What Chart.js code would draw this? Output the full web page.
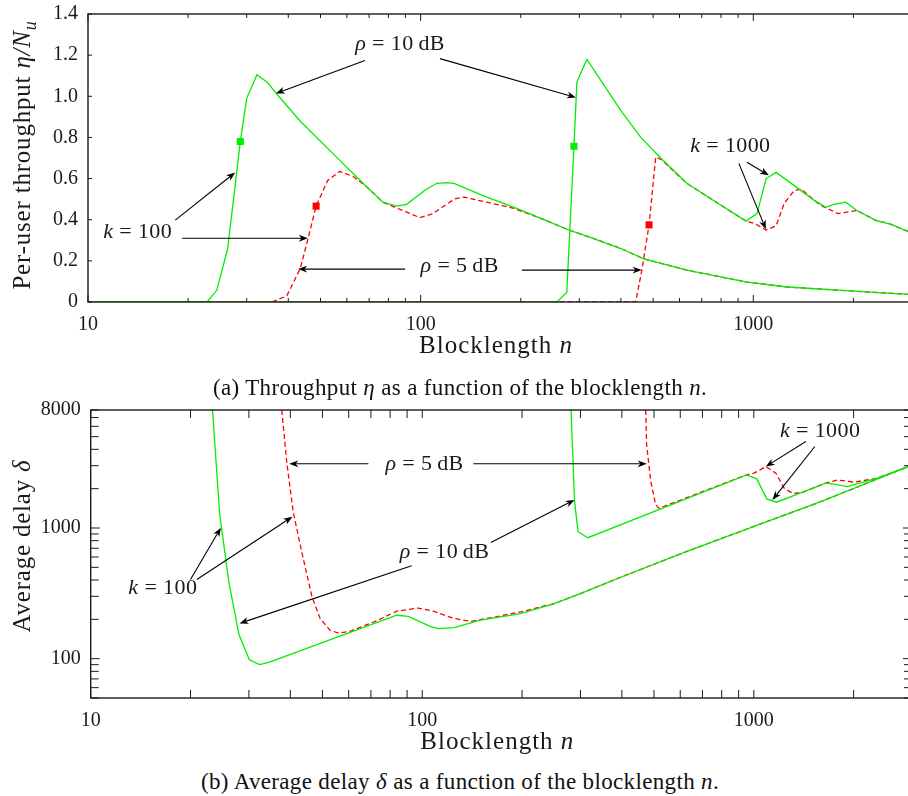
<!DOCTYPE html>
<html>
<head>
<meta charset="utf-8">
<script src="https://cdn.jsdelivr.net/npm/chart.js@4.4.1/dist/chart.umd.min.js"></script>
<style>
  html, body { margin: 0; padding: 0; background: #fff; }
  body { width: 908px; height: 796px; overflow: hidden; position: relative; }
  canvas { position: absolute; left: 0; }
  #c1 { top: 0; }
  #c2 { top: 395px; }
  .cap { position: absolute; font-family: "Liberation Serif", serif; font-size: 23px; line-height: 23px;
         letter-spacing: 0.35px; color: #111; white-space: nowrap; transform: translateX(-50%); }
</style>
</head>
<body>
<canvas id="c1" width="920" height="365"></canvas>
<canvas id="c2" width="920" height="365"></canvas>
<div class="cap" style="left:460px; top:376px;">(a) Throughput <i>η</i> as a function of the blocklength <i>n</i>.</div>
<div class="cap" style="left:460px; top:770px;">(b) Average delay <i>δ</i> as a function of the blocklength <i>n</i>.</div>
<script>
// (a) throughput eta / N_u  -- k = 100
const nG100   = [10, 22.8, 24.4, 26.3, 28.7, 30, 32.2, 34.5, 37, 43.4, 54.6, 68.8, 77, 84.8, 90.8, 104, 112, 120, 126, 158, 191, 235, 279, 316, 400, 469, 631, 957, 1262, 2006, 3000];
const etaG100 = [0, 0, 0.058, 0.26, 0.78, 0.99, 1.105, 1.07, 1.01, 0.88, 0.72, 0.56, 0.485, 0.466, 0.475, 0.548, 0.577, 0.58, 0.577, 0.51, 0.46, 0.40, 0.35, 0.32, 0.26, 0.21, 0.155, 0.097, 0.073, 0.053, 0.036];
const nR100   = [10, 35.7, 39.6, 43.4, 45.9, 48.5, 52.5, 57.1, 62.7, 68.8, 77, 86.7, 99.5, 109, 126, 135, 158, 191, 235, 279, 316, 400, 469, 631, 957, 1262, 2006, 3000];
const etaR100 = [0, 0, 0.03, 0.16, 0.31, 0.466, 0.59, 0.635, 0.61, 0.56, 0.485, 0.45, 0.41, 0.43, 0.50, 0.51, 0.485, 0.455, 0.40, 0.35, 0.32, 0.26, 0.21, 0.155, 0.097, 0.073, 0.053, 0.036];
// k = 1000
const nG1000   = [10, 257, 275, 289, 295, 316, 348, 400, 459, 527, 631, 800, 951, 1026, 1093, 1171, 1325, 1521, 1652, 1746, 1898, 2048, 2333, 2587, 3000];
const etaG1000 = [0, 0, 0.047, 0.757, 1.07, 1.18, 1.077, 0.93, 0.80, 0.70, 0.577, 0.47, 0.393, 0.43, 0.60, 0.63, 0.567, 0.495, 0.46, 0.475, 0.485, 0.445, 0.397, 0.378, 0.335];
const nR1000   = [10, 443, 463, 486, 509, 531, 631, 800, 951, 1005, 1093, 1171, 1239, 1325, 1394, 1521, 1595, 1797, 2048, 2333, 2587, 3000];
const etaR1000 = [0, 0, 0.16, 0.375, 0.705, 0.69, 0.577, 0.47, 0.393, 0.383, 0.35, 0.37, 0.48, 0.54, 0.55, 0.495, 0.47, 0.43, 0.445, 0.397, 0.378, 0.335];
// square markers
const mkGreenN = [28.7, 289], mkGreenEta = [0.78, 0.757];
const mkRedN = [48.5, 486],   mkRedEta = [0.466, 0.375];

// (b) average delay
const dnG100 = [23.3, 24.5, 26.1, 28.0, 30.1, 32.3, 34.6, 83.8, 90.8, 105.6, 112, 124.7, 150, 198, 250, 301, 397, 631, 1002, 1592, 3000];
const dG100  = [8000, 1259, 387, 153, 98, 90, 94, 215, 211, 177, 170, 173, 197, 221, 264, 316, 420, 665, 1030, 1590, 3030];
const dnR100 = [37.7, 39.0, 40.8, 43.3, 46.5, 49.2, 52.7, 55.9, 60.6, 72.9, 83.8, 97.2, 108, 124.7, 140, 165, 198, 250, 301, 397, 631, 1002, 1592, 3000];
const dR100  = [8000, 3228, 1334, 657, 297, 203, 165, 157, 162, 195, 231, 244, 231, 203, 193, 208, 228, 264, 316, 420, 665, 1030, 1590, 3030];
const dnG1000 = [281, 288, 295, 316, 951, 1021, 1094, 1172, 1648, 1746, 1914, 2359, 3000];
const dG1000  = [8000, 1592, 937, 843, 2552, 2377, 1670, 1575, 2203, 2163, 2075, 2404, 3030];
const dnR1000 = [472, 475, 489, 506, 518, 951, 1002, 1087, 1165, 1234, 1307, 1385, 1648, 1787, 2005, 2359, 3000];
const dR1000  = [8000, 4335, 2265, 1502, 1416, 2552, 2630, 2951, 2630, 2018, 1847, 1855, 2203, 2333, 2244, 2404, 3030];

// ticks
const nTicks = [10, 20, 30, 40, 50, 60, 70, 80, 90, 100, 200, 300, 400, 500, 600, 700, 800, 900, 1000, 2000, 3000];
const nLabels = [10, 100, 1000];
const etaTicks = [0, 0.2, 0.4, 0.6, 0.8, 1.0, 1.2, 1.4];
const delayTicks = [50, 60, 70, 80, 90, 100, 200, 300, 400, 500, 600, 700, 800, 900, 1000, 2000, 3000, 4000, 5000, 6000, 7000, 8000];
const delayLabels = [100, 1000, 8000];

// annotations, in data coordinates (n, value)
const K100 = [['k', 'i'], [' = 100', 'r']];
const K1000 = [['k', 'i'], [' = 1000', 'r']];
const RHO10 = [['ρ', 'i'], [' = 10\u2009dB', 'r']];
const RHO5 = [['ρ', 'i'], [' = 5\u2009dB', 'r']];
const notesA = [[RHO10, 86.7, 1.251], [K100, 14.1, 0.337], [RHO5, 131, 0.175], [K1000, 853, 0.757]];
const arrowsA = [[68.0, 1.174, 36.7, 1.014], [114.3, 1.183, 293, 0.994], [18.3, 0.398, 27.7, 0.630],
                 [19.2, 0.310, 45.8, 0.310], [89.8, 0.160, 42.8, 0.160], [201.6, 0.155, 462, 0.155],
                 [957, 0.679, 1114, 0.616], [905, 0.674, 1091, 0.354]];
const notesB = [[RHO5, 101.6, 3083], [RHO10, 116.7, 649], [K100, 16.5, 344], [K1000, 1585, 5546]];
const arrowsB = [[68.8, 3100, 39.7, 3100], [142.6, 3100, 475.5, 3100], [20.0, 404, 24.7, 1005],
                 [20.9, 404, 40.6, 1221], [92.9, 514, 28.1, 186], [161, 776, 288, 1641],
                 [1435, 4594, 1087, 2951], [1528, 4207, 1138, 1641]];

const FONT = '"Liberation Serif", serif';
const INK = '#1a1a1a';
const GREEN = '#00ee00';
const RED = '#ff0000';

function pts(xs, ys) { return xs.map((x, i) => ({ x: x, y: ys[i] })); }

function drawParts(ctx, parts, x, y, size, align, spacing) {
  const fonts = { r: size + 'px ' + FONT, i: 'italic ' + size + 'px ' + FONT, s: Math.round(size * 0.7) + 'px ' + FONT, si: 'italic ' + Math.round(size * 0.7) + 'px ' + FONT };
  ctx.letterSpacing = (spacing || 0) + 'px';
  let w = 0;
  parts.forEach(p => { ctx.font = fonts[p[1]]; w += ctx.measureText(p[0]).width; });
  let cx = align === 'center' ? x - w / 2 : x;
  ctx.textAlign = 'left';
  parts.forEach(p => {
    ctx.font = fonts[p[1]];
    const dy = (p[1] === 's' || p[1] === 'si') ? size * 0.22 : 0;
    ctx.fillText(p[0], cx, y + dy);
    cx += ctx.measureText(p[0]).width;
  });
  ctx.letterSpacing = '0px';
}

function arrow(ctx, x1, y1, x2, y2) {
  const a = Math.atan2(y2 - y1, x2 - x1);
  const L = 9, W = 3.4, N = 6.5;
  ctx.beginPath();
  ctx.moveTo(x1, y1);
  ctx.lineTo(x2 - Math.cos(a) * N, y2 - Math.sin(a) * N);
  ctx.stroke();
  const c = Math.cos(a), s = Math.sin(a);
  ctx.beginPath();
  ctx.moveTo(x2, y2);
  ctx.lineTo(x2 - c * L - s * W, y2 - s * L + c * W);
  ctx.lineTo(x2 - c * N, y2 - s * N);
  ctx.lineTo(x2 - c * L + s * W, y2 - s * L - c * W);
  ctx.closePath();
  ctx.fill();
}

const isPow10 = v => Math.abs(Math.log10(v) - Math.round(Math.log10(v))) < 1e-9;

const framePlugin = {
  id: 'frame',
  afterDatasetsDraw(chart, args, o) {
    const { ctx, chartArea: a, scales: { x, y } } = chart;
    ctx.save();
    ctx.strokeStyle = INK;
    ctx.lineWidth = 1;
    ctx.beginPath();
    x.ticks.forEach(t => {
      const px = x.getPixelForValue(t.value);
      const len = isPow10(t.value) ? o.xMajor : o.xMinor;
      ctx.moveTo(px, a.bottom); ctx.lineTo(px, a.bottom - len);
      ctx.moveTo(px, a.top); ctx.lineTo(px, a.top + len);
    });
    y.ticks.forEach(t => {
      const py = y.getPixelForValue(t.value);
      const len = o.yLog && isPow10(t.value) ? o.yMajor : o.yMinor;
      ctx.moveTo(a.left, py); ctx.lineTo(a.left + len, py);
      ctx.moveTo(a.right, py); ctx.lineTo(a.right - len, py);
    });
    ctx.stroke();
    ctx.lineWidth = 1.4;
    ctx.strokeRect(a.left, a.top, a.right - a.left, a.bottom - a.top);

    // axis titles
    ctx.fillStyle = INK;
    ctx.textBaseline = 'alphabetic';
    drawParts(ctx, [['Blocklength ', 'r'], ['n', 'i']], (a.left + a.right) / 2 - 4, a.bottom + 51, 25, 'center', 1);
    ctx.save();
    ctx.translate(30, o.yTitleC);
    ctx.rotate(-Math.PI / 2);
    drawParts(ctx, o.yTitle, 0, 0, 25, 'center', 0.8);
    ctx.restore();

    // annotations
    ctx.lineWidth = 1.1;
    ctx.strokeStyle = '#000';
    ctx.fillStyle = '#000';
    o.arrows.forEach(r => arrow(ctx, x.getPixelForValue(r[0]), y.getPixelForValue(r[1]), x.getPixelForValue(r[2]), y.getPixelForValue(r[3])));
    ctx.fillStyle = INK;
    ctx.textBaseline = 'middle';
    o.notes.forEach(nt => drawParts(ctx, nt[0], x.getPixelForValue(nt[1]), y.getPixelForValue(nt[2]), 22, 'center', 0.4));
    ctx.restore();
  }
};

function lineSet(xs, ys, color, dashed, order) {
  return {
    data: pts(xs, ys), borderColor: color, backgroundColor: color, borderWidth: 1.3,
    borderDash: dashed ? [5, 3] : [], pointRadius: 0, tension: 0, fill: false, order: order
  };
}
function markSet(xs, ys, color) {
  return { data: pts(xs, ys), showLine: false, pointStyle: 'rect', pointRadius: 5, borderWidth: 0,
           backgroundColor: color, borderColor: color, order: 0 };
}

function makeChart(id, datasets, o) {
  return new Chart(document.getElementById(id), {
    type: 'line',
    data: { datasets: datasets },
    options: {
      responsive: false,
      animation: false,
      devicePixelRatio: 1,
      layout: { padding: { left: 0, top: o.top, right: 8, bottom: 0 } },
      plugins: { legend: { display: false }, tooltip: { enabled: false }, frame: o.frame },
      scales: {
        x: {
          type: 'logarithmic', min: 10, max: 3000,
          grid: { display: false }, border: { display: false },
          afterBuildTicks: s => { s.ticks = nTicks.map(v => ({ value: v })); },
          afterFit: s => { s.height = o.xh; },
          ticks: { autoSkip: false, maxRotation: 0, padding: 3, color: INK, font: { family: FONT, size: 20 },
                   callback: v => nLabels.includes(Math.round(v)) ? String(Math.round(v)) : '' }
        },
        y: o.y
      }
    },
    plugins: [framePlugin]
  });
}

makeChart('c1', [
  lineSet(nG100, etaG100, GREEN, false, 1),
  lineSet(nG1000, etaG1000, GREEN, false, 1),
  lineSet(nR100, etaR100, RED, true, 2),
  lineSet(nR1000, etaR1000, RED, true, 2),
  markSet(mkGreenN, mkGreenEta, GREEN),
  markSet(mkRedN, mkRedEta, RED)
], {
  top: 13, xh: 63,
  y: {
    type: 'linear', min: 0, max: 1.4,
    grid: { display: false }, border: { display: false },
    afterBuildTicks: s => { s.ticks = etaTicks.map(v => ({ value: v })); },
    afterFit: s => { s.width = 88; },
    ticks: { padding: 2, color: INK, font: { family: FONT, size: 20 },
             callback: v => v === 0 ? '0' : v.toFixed(1) }
  },
  frame: { xMajor: 7, xMinor: 4, yMinor: 4, yLog: false, yTitleC: 155,
           yTitle: [['Per-user throughput ', 'r'], ['η/N', 'i'], ['u', 'si']],
           notes: notesA, arrows: arrowsA }
});

makeChart('c2', [
  lineSet(dnG100, dG100, GREEN, false, 1),
  lineSet(dnG1000, dG1000, GREEN, false, 1),
  lineSet(dnR100, dR100, RED, true, 2),
  lineSet(dnR1000, dR1000, RED, true, 2)
], {
  top: 15, xh: 62,
  y: {
    type: 'logarithmic', min: 50, max: 8000,
    grid: { display: false }, border: { display: false },
    afterBuildTicks: s => { s.ticks = delayTicks.map(v => ({ value: v })); },
    afterFit: s => { s.width = 90.7; },
    ticks: { autoSkip: false, padding: 2, color: INK, font: { family: FONT, size: 20 },
             callback: v => delayLabels.includes(Math.round(v)) ? String(Math.round(v)) : '' }
  },
  frame: { xMajor: 8, xMinor: 8, yMajor: 9, yMinor: 8, yLog: true, yTitleC: 151,
           yTitle: [['Average delay ', 'r'], ['δ', 'i']],
           notes: notesB, arrows: arrowsB }
});
</script>
</body>
</html>
